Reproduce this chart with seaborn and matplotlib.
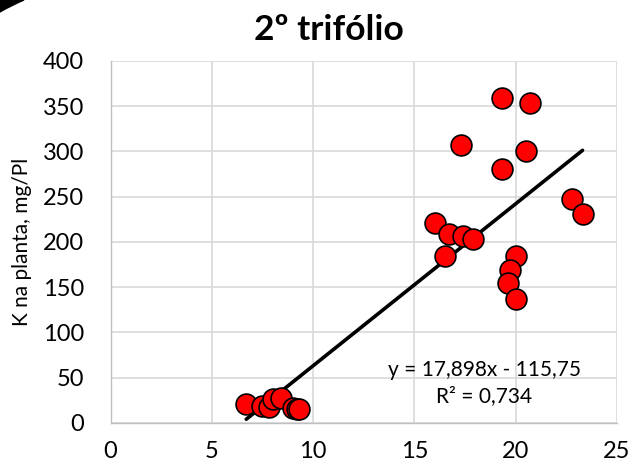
import numpy as np
import pandas as pd
import matplotlib
matplotlib.use("Agg")
import matplotlib.pyplot as plt
import seaborn as sns
from matplotlib.patches import PathPatch
from matplotlib.path import Path

# ---- data ----
x_vals = [6.7, 7.5, 7.8, 8.0, 8.4, 9.0, 9.2, 9.3,
          16.0, 16.7, 17.4, 17.9, 16.5, 17.3,
          19.3, 20.7, 20.5, 19.3,
          20.0, 19.7, 19.6, 20.0,
          22.8, 23.3]
y_vals = [21, 19, 18, 26, 28, 17, 16, 15,
          221, 209, 207, 203, 184, 307,
          359, 354, 301, 281,
          184, 169, 155, 137,
          248, 231]
slope = 17.898
intercept = -115.75
r2 = 0.734
title = "2º trifólio"
ylabel = "K na planta, mg/Pl"
x_ticks = [0, 5, 10, 15, 20, 25]
y_ticks = [0, 50, 100, 150, 200, 250, 300, 350, 400]

df = pd.DataFrame({"x": x_vals, "y": y_vals})

sns.set_theme(style="white")
plt.rcParams['font.family'] = ['Lato', 'DejaVu Sans']
plt.rcParams['text.color'] = 'black'

fig = plt.figure(figsize=(6.33, 4.69), dpi=100)
ax = fig.add_axes([0.1746, 0.0981, 0.8001, 0.7719])

ax.set_xlim(0, 25)
ax.set_ylim(0, 400)
ax.set_xticks(x_ticks)
ax.set_yticks(y_ticks)
ax.grid(True, color="#d9d9d9", linewidth=1.2)
ax.set_axisbelow(True)

# trendline
xl = np.array([min(x_vals), max(x_vals)])
sns.lineplot(x=xl, y=slope * xl + intercept, ax=ax, color="black",
             linewidth=2.6, zorder=3)

sns.scatterplot(data=df, x="x", y="y", ax=ax, s=225, color="#ff0000",
                edgecolor="black", linewidth=1.2, zorder=4)

for side in ["top", "right"]:
    ax.spines[side].set_visible(False)
for side in ["left", "bottom"]:
    ax.spines[side].set_color("#bfbfbf")
    ax.spines[side].set_linewidth(1.0)

ax.tick_params(axis="both", length=0, labelsize=17, colors="black")
ax.tick_params(axis="y", pad=19)
ax.tick_params(axis="x", pad=13)
ax.set_xlabel("")
ax.set_ylabel(ylabel, fontsize=15, labelpad=8, color="black")

ax.text(18.45, 58, f"y = {slope:.3f}x - {abs(intercept):.2f}".replace(".", ","),
        fontsize=15, ha="center", va="center", color="black")
ax.text(18.45, 30, f"R² = {r2:.3f}".replace(".", ","),
        fontsize=15, ha="center", va="center", color="black")

fig.text(0.52, 0.935, title, fontsize=25.5, fontweight="bold",
         ha="center", va="center", color="black")

# black corner artifact (top-left)
W, H = 633, 469
verts = [(0, H - 0), (0, H - 12), (10, H - 6), (24, H - 0), (0, H)]
verts = [(vx / W, vy / H) for vx, vy in verts]
path = Path(verts, [Path.MOVETO, Path.LINETO, Path.CURVE3, Path.CURVE3, Path.CLOSEPOLY])
fig.patches.append(PathPatch(path, transform=fig.transFigure, color="black"))

fig.savefig("out.png", dpi=100)
